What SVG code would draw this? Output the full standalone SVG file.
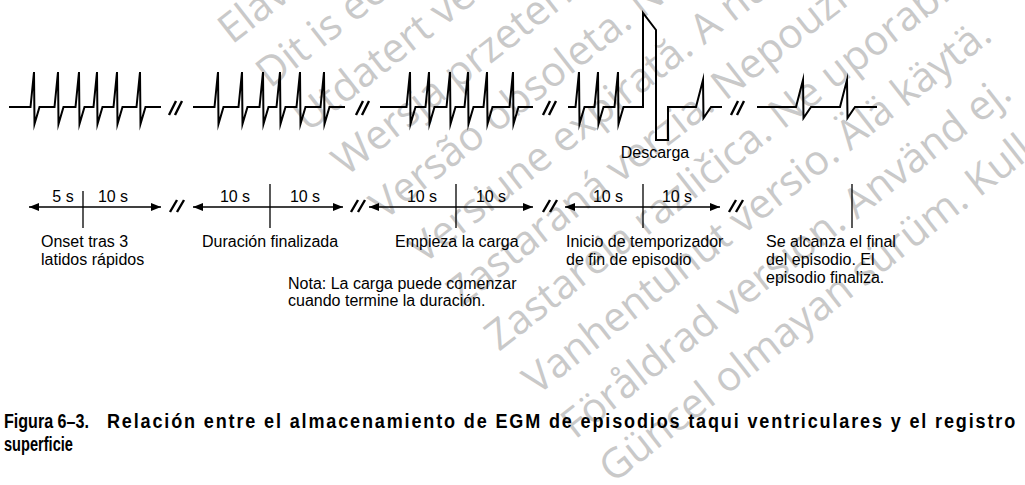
<svg xmlns="http://www.w3.org/2000/svg" width="1025" height="485" viewBox="0 0 1025 485">
<style>
.wm{font-family:"Open Sans","DejaVu Sans",sans-serif;font-size:41px;fill:#c9c9c9}
.tr{fill:none;stroke:#000;stroke-width:2;stroke-linejoin:miter;stroke-miterlimit:10}
.brk{fill:none;stroke:#000;stroke-width:2.4}
.ax{fill:none;stroke:#000;stroke-width:1.3}
.tk{fill:none;stroke:#000;stroke-width:1.3}
.lb{font-family:"Liberation Sans",Arial,sans-serif;font-size:16px;fill:#000}
.cap{font-family:"Liberation Sans",Arial,sans-serif;font-size:20.5px;font-weight:bold;fill:#000}
</style>
<defs>
<marker id="ah" viewBox="0 0 10 8" refX="10" refY="4" markerWidth="10" markerHeight="8" markerUnits="userSpaceOnUse" orient="auto-start-reverse">
<path d="M0,0 L10,4 L0,8 Z" fill="#000"/>
</marker>
</defs>
<rect width="1025" height="485" fill="#fff"/>
<g id="watermark">
<text class="wm" transform="translate(194,1) rotate(-38)">Pasenusi versija. Nenaudokite.</text>
<text class="wm" transform="translate(232,45) rotate(-38)">Elavult verzió. Ne használja!</text>
<text class="wm" transform="translate(270,89) rotate(-38)">Dit is een verouderde versie. Niet gebruiken.</text>
<text class="wm" transform="translate(308,133) rotate(-38)">Utdatert versjon. Skal ikke brukes.</text>
<text class="wm" transform="translate(346,177) rotate(-38)">Wersja przeterminowana. Nie używać.</text>
<text class="wm" transform="translate(384,221) rotate(-38)">Versão obsoleta. Não utilize.</text>
<text class="wm" transform="translate(423,265) rotate(-38)">Versiune expirată. A nu se utiliza.</text>
<text class="wm" transform="translate(461,308) rotate(-38)">Zastaraná verzia. Nepoužívať.</text>
<text class="wm" transform="translate(499,352) rotate(-38)">Zastarela različica. Ne uporabite.</text>
<text class="wm" transform="translate(537,396) rotate(-38)">Vanhentunut versio. Älä käytä.</text>
<text class="wm" transform="translate(575,440) rotate(-38)">Föråldrad version. Använd ej.</text>
<text class="wm" transform="translate(613,484) rotate(-38)">Güncel olmayan sürüm. Kullanmayın.</text>
</g>
<g id="egm-trace">
<path class="tr" d="M9,107 L30.5,107 L34,72 L34.5,124 L39.5,107 L54.5,107 L58,72 L58.5,124 L63.5,107 L75.5,107 L79,72 L79.5,124 L84.5,107 L93.5,107 L97,72 L97.5,124 L102.5,107 L113.5,107 L117,72 L117.5,124 L122.5,107 L136.5,107 L140,72 L140.5,124 L145.5,107 L161,107"/>
<path class="tr" d="M193,107 L214.5,107 L218,72 L218.5,124 L223.5,107 L238.5,107 L242,72 L242.5,124 L247.5,107 L259.5,107 L263,72 L263.5,124 L268.5,107 L276.5,107 L280,72 L280.5,124 L285.5,107 L296.5,107 L300,72 L300.5,124 L305.5,107 L320.5,107 L324,72 L324.5,124 L329.5,107 L345,107"/>
<path class="tr" d="M380,107 L406.5,107 L410,72 L410.5,124 L415.5,107 L425.5,107 L429,72 L429.5,124 L434.5,107 L446.5,107 L450,72 L450.5,124 L455.5,107 L464.5,107 L468,72 L468.5,124 L473.5,107 L483.5,107 L487,72 L487.5,124 L492.5,107 L509.5,107 L513,72 L513.5,124 L518.5,107 L533,107"/>
<path class="tr" d="M568,107 L575.5,107 L579,72 L579.5,124 L584.5,107 L594.5,107 L598,72 L598.5,124 L603.5,107 L614.5,107 L618,72 L618.5,124 L623.5,107 L643,107 L643,13 L656,30 L656,140 L668,140 L668,107 L696,107 L703,80 L703.5,118 L711,107 L722,107"/>
<path class="tr" d="M757,107 L796,107 L803,80 L803.5,118 L811,107 L840,107 L847,80 L847.5,118 L855,107 L877,107"/>
<path class="brk" d="M169,115 L176,101 M175,115 L182,101 M356,115 L363,101 M362,115 L369,101 M543,115 L550,101 M549,115 L556,101 M731,115 L738,101 M737,115 L744,101"/>
</g>
<g id="connectors">
<line class="ax" x1="29" y1="207" x2="161" y2="207" marker-start="url(#ah)" marker-end="url(#ah)"/>
<line class="ax" x1="193" y1="207" x2="343" y2="207" marker-start="url(#ah)" marker-end="url(#ah)"/>
<line class="ax" x1="369" y1="207" x2="533" y2="207" marker-start="url(#ah)" marker-end="url(#ah)"/>
<line class="ax" x1="565" y1="207" x2="720" y2="207" marker-start="url(#ah)" marker-end="url(#ah)"/>
<path class="brk" d="M170,212 L177,200 M177,212 L184,200 M351,212 L358,200 M358,212 L365,200 M543,212 L550,200 M550,212 L557,200 M729,212 L736,200 M736,212 L743,200"/>
</g>
<g id="tick-onset">
<line class="tk" x1="83" y1="191" x2="83" y2="228"/>
<text class="lb" x="63" y="202" text-anchor="middle">5 s</text>
<text class="lb" x="113" y="202" text-anchor="middle">10 s</text>
<text class="lb" x="41" y="247">Onset tras 3</text>
<text class="lb" x="41" y="265">latidos rápidos</text>
</g>
<g id="tick-duracion">
<line class="tk" x1="270" y1="184" x2="270" y2="228"/>
<text class="lb" x="235" y="202" text-anchor="middle">10 s</text>
<text class="lb" x="305" y="202" text-anchor="middle">10 s</text>
<text class="lb" x="202" y="247">Duración finalizada</text>
</g>
<g id="tick-carga">
<line class="tk" x1="456" y1="184" x2="456" y2="228"/>
<text class="lb" x="422" y="202" text-anchor="middle">10 s</text>
<text class="lb" x="491" y="202" text-anchor="middle">10 s</text>
<text class="lb" x="395" y="247">Empieza la carga</text>
<text class="lb" x="288" y="289">Nota: La carga puede comenzar</text>
<text class="lb" x="288" y="306">cuando termine la duración.</text>
</g>
<g id="tick-inicio">
<line class="tk" x1="643" y1="184" x2="643" y2="228"/>
<text class="lb" x="608" y="202" text-anchor="middle">10 s</text>
<text class="lb" x="677" y="202" text-anchor="middle">10 s</text>
<text class="lb" x="566" y="247">Inicio de temporizador</text>
<text class="lb" x="566" y="265">de fin de episodio</text>
</g>
<g id="tick-final">
<line class="tk" x1="852" y1="184" x2="852" y2="228"/>
<text class="lb" x="766" y="247">Se alcanza el final</text>
<text class="lb" x="766" y="265">del episodio. El</text>
<text class="lb" x="766" y="283">episodio finaliza.</text>
</g>
<g id="label-descarga">
<text class="lb" x="655" y="158" text-anchor="middle">Descarga</text>
</g>
<g id="caption" transform="scale(0.88,1)">
<text class="cap" x="4.5" y="428" textLength="96.6" lengthAdjust="spacingAndGlyphs">Figura 6–3.</text>
<text class="cap" x="121.6" y="428" textLength="1032" lengthAdjust="spacing">Relación entre el almacenamiento de EGM de episodios taqui ventriculares y el registro</text>
<text class="cap" x="4.5" y="451" textLength="78.4" lengthAdjust="spacingAndGlyphs">superficie</text>
</g>
</svg>
